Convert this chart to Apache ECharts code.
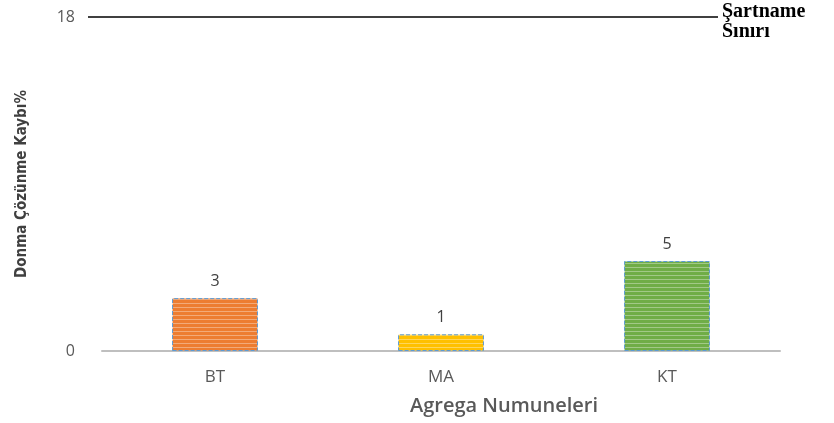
<!DOCTYPE html>
<html>
<head>
<meta charset="utf-8">
<script src="https://cdn.jsdelivr.net/npm/echarts@6/dist/echarts.min.js"></script>
<style>
  html, body { margin: 0; padding: 0; background: #fff; }
  #chart { width: 834px; height: 423px; }
</style>
</head>
<body>
<div id="chart"></div>
<script>
// veriler
const categories = ['BT', 'MA', 'KT'];
const values = [2.85, 0.9, 4.85];
const barColors = ['#ED7D31', '#FFC000', '#70AD47'];
const limitValue = 18;
const yTicks = [0, 18];

// çizgili dolgu (yatay çizgiler)
function stripe (base) {
  const c = document.createElement('canvas');
  c.width = 4; c.height = 4;
  const ctx = c.getContext('2d');
  ctx.fillStyle = base;
  ctx.fillRect(0, 0, 4, 4);
  ctx.fillStyle = 'rgba(255,255,255,0.35)';
  ctx.fillRect(0, 3, 4, 1);
  return { image: c, repeat: 'repeat' };
}

const myChart = echarts.init(document.getElementById('chart'));
myChart.setOption({
  animation: false,
  grid: { left: 102, right: 54, top: 17, bottom: 72, outerBoundsMode: 'none' },
  xAxis: {
    type: 'category',
    data: categories,
    name: 'Agrega Numuneleri',
    nameLocation: 'middle',
    nameGap: 45,
    nameTextStyle: { color: '#595959', fontSize: 20, fontWeight: 600, fontFamily: 'Open Sans', padding: [0, 0, 0, 126] },
    axisLine: { lineStyle: { color: '#bfbfbf', width: 2 } },
    axisTick: { show: false },
    axisLabel: { color: '#595959', fontSize: 17, margin: 18, fontFamily: 'Open Sans' }
  },
  yAxis: {
    type: 'value',
    min: yTicks[0],
    max: yTicks[1],
    interval: 18,
    name: 'Donma Çözünme Kaybı%',
    nameLocation: 'middle',
    nameGap: 72,
    nameTextStyle: { color: '#404040', fontSize: 15, fontWeight: 'bold', fontFamily: 'DejaVu Sans Condensed' },
    axisLine: { show: false },
    axisTick: { show: false },
    splitLine: { show: false },
    axisLabel: { color: '#595959', fontSize: 16, margin: 27, fontFamily: 'Open Sans' }
  },
  series: [{
    type: 'bar',
    barWidth: '38%',
    data: values.map((v, i) => ({
      value: v,
      itemStyle: {
        color: stripe(barColors[i]),
        borderColor: '#5B9BD5',
        borderWidth: 1,
        borderType: 'dashed'
      }
    })),
    label: {
      show: true,
      position: 'top',
      distance: 9,
      color: '#404040',
      fontSize: 16,
      fontFamily: 'Open Sans',
      formatter: p => Math.round(p.value)
    },
    markLine: {
      symbol: 'none',
      silent: true,
      lineStyle: { color: '#000', width: 1.5, type: 'solid' },
      label: {
        position: 'end',
        distance: 4,
        offset: [0, 5],
        formatter: 'Şartname\nSınırı',
        color: '#000',
        fontSize: 20,
        fontWeight: 'bold',
        lineHeight: 20,
        fontFamily: 'Liberation Serif',
        align: 'left'
      },
      data: [[{ yAxis: limitValue, x: 88 }, { yAxis: limitValue, x: 718 }]]
    }
  }]
});
</script>
</body>
</html>
